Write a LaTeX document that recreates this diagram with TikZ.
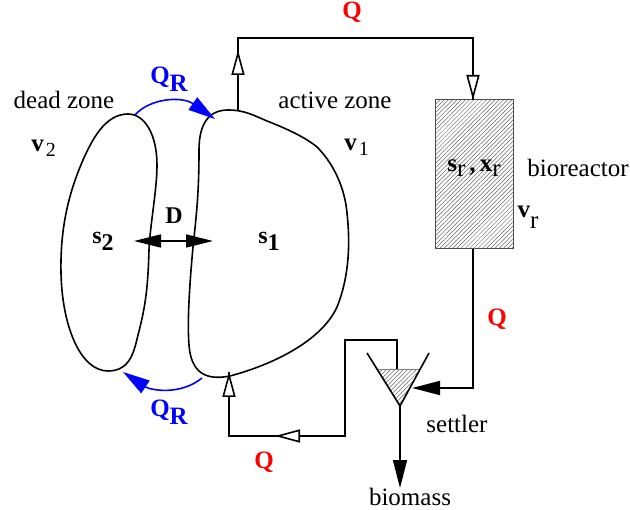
\documentclass[tikz,border=0pt]{standalone}
\usepackage{amsmath}
\usepackage{fontspec}
\setmainfont{Liberation Serif}
\usetikzlibrary{positioning, arrows.meta, patterns.meta}

\definecolor{qblue}{RGB}{0,0,255}
\definecolor{qred}{RGB}{255,0,0}

\newcommand{\lowsub}[2][0.3em]{\raisebox{-#1}{#2}}

\begin{document}
\begin{tikzpicture}[
    x=1pt, y=-1pt,
    lab/.style={inner sep=0pt, font=\fontsize{25}{27}\selectfont},
    boldlab/.style={inner sep=0pt, font=\fontsize{24}{26}\selectfont\bfseries},
    bflow/.style={inner sep=0pt, font=\fontsize{25}{27}\selectfont\bfseries, text=qblue},
    rflow/.style={inner sep=0pt, font=\fontsize{25}{27}\selectfont\bfseries, text=qred},
    blob/.style={line width=1.6pt},
    pipe/.style={line width=1.6pt},
    hatch/.style={pattern={Lines[angle=45, distance=3pt, line width=0.5pt]}, pattern color=black!60},
    openarrow/.style={pipe, -{Triangle[open, fill=white, length=25pt, width=13pt]}},
    fillarrow/.style={pipe, -{Triangle[length=28pt, width=14pt]}},
    recycle/.style={line width=1.6pt, draw=qblue, -{Triangle[length=27pt, width=15pt, fill=qblue]}}
]
\useasboundingbox (0,0) rectangle (630,510);

% zones
\draw[blob] (228,110) .. controls (245,110) and (255,116) .. (267,121)
    .. controls (285,128) and (305,137) .. (317,147)
    .. controls (335,165) and (345,190) .. (347,213)
    .. controls (350,240) and (350,275) .. (337,307)
    .. controls (322,340) and (275,364) .. (230,376)
    .. controls (205,381) and (191,372) .. (189,345)
    .. controls (187,320) and (190,280) .. (193,247)
    .. controls (197,210) and (199,190) .. (199,150)
    .. controls (199,125) and (208,110) .. (228,110) -- cycle;
\draw[blob] (128,114) .. controls (145,114) and (157,135) .. (157,165)
    .. controls (157,190) and (150,225) .. (149,250)
    .. controls (148,285) and (146,305) .. (138,335)
    .. controls (134,352) and (130,371) .. (108,371)
    .. controls (80,371) and (62,325) .. (61,273)
    .. controls (60,225) and (70,190) .. (83,160)
    .. controls (92,140) and (105,114) .. (128,114) -- cycle;

\node[draw=black!70, line width=1pt, hatch, minimum width=78pt, minimum height=149pt, inner sep=0pt] (reactor) at (474,174.5) {};

% settler
\coordinate (apex) at (400,406);
\coordinate (rimleft) at (367,353);
\coordinate (rimright) at (429,353);
\path[hatch] (378,369) -- (419,369) -- (apex) -- cycle;
\draw[line width=0.8pt, draw=black!50] (378,369) -- (419,369);
\draw[pipe] (rimleft) -- (apex) -- (rimright);

% points on the pipes
\coordinate (activetop) at (238,110);
\coordinate (corner) at (238,38);
\coordinate (tipup) at (238,50);
\coordinate (tipdown) at (473,100);
\coordinate (inlet) at (412,388);
\coordinate (surface) at (397,369);
\coordinate (return) at (345,436);
\coordinate (tipleft) at (275,436);
\coordinate (tipactive) at (229,372);

\draw[pipe] (activetop) -- (corner) -| (tipdown);
\draw[openarrow] (238,85) -- (tipup);
\draw[openarrow] (473,60) -- (tipdown);
\draw[fillarrow] (reactor.south -| tipdown) |- (inlet);
\draw[pipe] (surface) |- (345,340) -- (return) -| (tipactive);
\draw[openarrow] (310,436) -- (tipleft);
\draw[openarrow] (229,410) -- (tipactive);

% labels
\node[lab] (dead) at (64,100) {dead zone};
\node[lab] (active) at (335,100) {active zone};
\node[lab] (bio) at (578,168) {bioreactor};
\node[lab] (settler) at (457,424) {settler};
\node[lab] (biomass) at (410,497) {biomass};

\draw[fillarrow] (apex) -- (biomass.north -| apex);

\node[lab] (vtwo) at (43.5,148) {\textbf{v}\kern2pt\lowsub[0.2em]{\fontsize{20}{22}\selectfont 2}};
\node[lab] (vone) at (356.5,147) {\textbf{v}\kern2pt\lowsub[0.2em]{\fontsize{20}{22}\selectfont 1}};
\node[lab] (vr) at (528,217) {\textbf{v}\lowsub[0.44em]{r}};
\node[lab] (sx) at (474,168) {\textbf{s}\lowsub[0.2em]{r}\,\textbf{,}\,\textbf{x}\lowsub[0.2em]{r}};
\node[boldlab] (stwo) at (103,241) {s\lowsub{2}};
\node[boldlab] (sone) at (269,241) {s\lowsub{1}};
\node[boldlab] (dlab) at (174,216) {D};

\coordinate (dleft) at (134,241);
\coordinate (dright) at (213,241);
\draw[line width=1.4pt, {Triangle[length=27pt, width=13pt]}-{Triangle[length=27pt, width=13pt]}] (dleft) -- (dright);

% flows
\node[rflow] (qtop) at (352,12) {Q};
\node[rflow] (qright) at (497,319) {Q};
\node[rflow] (qbottom) at (264,462) {Q};
\node[bflow] (qrtop) at (169,79) {Q\lowsub{R}};
\node[bflow] (qrbottom) at (169,412) {Q\lowsub{R}};

\coordinate (deadtop) at (135,115);
\coordinate (activeleft) at (215,119);
\coordinate (activelow) at (202,378);
\coordinate (deadlow) at (123,372);
\draw[recycle] (deadtop) .. controls (150,98) and (182,96) .. (activeleft);
\draw[recycle] (activelow) .. controls (180,396) and (150,390) .. (deadlow);

\end{tikzpicture}
\end{document}
